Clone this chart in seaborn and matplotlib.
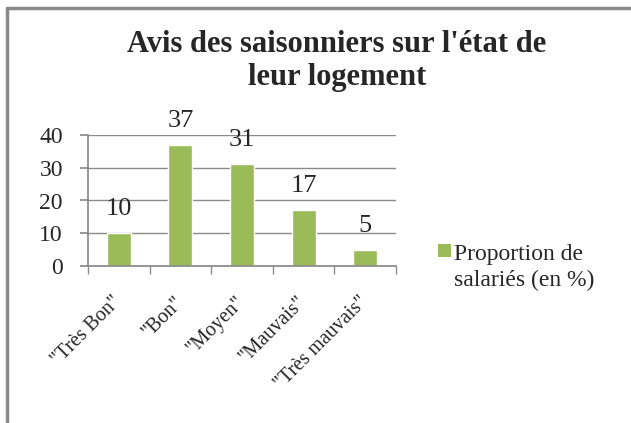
import matplotlib
matplotlib.use("Agg")
import matplotlib.pyplot as plt
import seaborn as sns
import pandas as pd
from matplotlib.lines import Line2D
from matplotlib.patches import Patch, Rectangle
from matplotlib.legend_handler import HandlerPatch

categories = ['"Très Bon"', '"Bon"', '"Moyen"', '"Mauvais"', '"Très mauvais"']
values = [10, 37, 31, 17, 5]
series_name = "Proportion de\nsalariés (en %)"
title = "Avis des saisonniers sur l'état de\nleur logement"

sns.set_theme(style="white")
plt.rcParams['font.family'] = ['Liberation Serif', 'DejaVu Serif']

W, H = 631, 423
fig = plt.figure(figsize=(W / 100, H / 100), dpi=100)
ax = fig.add_axes([88 / W, 1 - 266 / H, (396 - 88) / W, (266 - 135) / H])

df = pd.DataFrame({"cat": categories, "val": values})
sns.barplot(data=df, x="cat", y="val", color="#9BBB59", saturation=1, width=0.39, ax=ax)

ax.set_ylim(0, 40)
ax.set_xlim(-0.5, len(categories) - 0.5)
ax.set_yticks([0, 10, 20, 30, 40])
ax.set_xlabel("")
ax.set_ylabel("")
ax.grid(axis="y", color="#8a8a8a", linewidth=1)
ax.set_axisbelow(True)
for s in ["top", "right"]:
    ax.spines[s].set_visible(False)
ax.spines["left"].set_color("#8a8a8a")
ax.spines["bottom"].set_color("#8a8a8a")

ax.tick_params(axis="y", labelsize=17, length=6, color="#8a8a8a", left=True, pad=12)
ax.set_xticks(range(len(categories)))
ax.set_xticklabels(categories, rotation=45, ha="right", va="center",
                   rotation_mode="anchor", fontsize=14.5)
ax.tick_params(axis="x", length=0, pad=24)
ax.set_xticks([i - 0.5 for i in range(len(categories) + 1)], minor=True)
ax.tick_params(axis="x", which="minor", length=6, color="#8a8a8a", bottom=True)

for i, v in enumerate(values):
    ax.text(i, v + 4, str(v), ha="center", va="bottom", fontsize=19)

fig.text(337 / W, 1 - 61 / H, title, ha="center", va="center", fontsize=22,
         fontweight="bold", linespacing=1.15)


def top_square(legend, orig_handle, xdescent, ydescent, width, height, fontsize):
    s = 9.5
    return Rectangle((-xdescent, -ydescent + height - s + 11.5), s, s)


handle = Patch(facecolor="#9BBB59", edgecolor="none")
fig.legend([handle], [series_name], loc="center left", bbox_to_anchor=(438 / W, 1 - 268 / H),
           frameon=False, fontsize=17, handlelength=0.6, handleheight=0.6, handletextpad=0.08,
           borderaxespad=0, borderpad=0,
           handler_map={Patch: HandlerPatch(patch_func=top_square)})
for t in fig.legends[0].get_texts():
    t.set_linespacing(1.3)

# outer chart border (top and left visible)
fig.add_artist(Line2D([7 / W, 1], [1 - 8 / H, 1 - 8 / H], transform=fig.transFigure,
                      color="#8a8a8a", linewidth=2.5))
fig.add_artist(Line2D([7 / W, 7 / W], [0, 1 - 8 / H], transform=fig.transFigure,
                      color="#8a8a8a", linewidth=2.5))

fig.savefig("out.png", dpi=100)
